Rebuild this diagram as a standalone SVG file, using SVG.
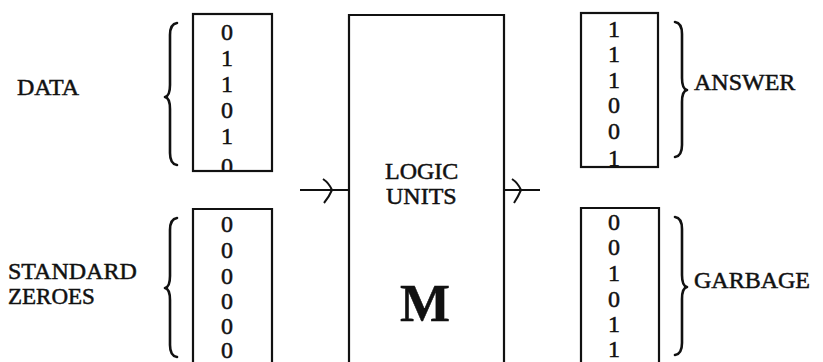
<svg xmlns="http://www.w3.org/2000/svg" width="823" height="362" viewBox="0 0 823 362">
<style>
text{font-family:"Liberation Serif","Times New Roman",serif;fill:#111;stroke:#111;stroke-width:0.5}
.lbl{font-size:24px}
.dg{font-size:24px;text-anchor:middle}
.box{fill:none;stroke:#111;stroke-width:2.2}
.br{fill:none;stroke:#111;stroke-width:2.6;stroke-linecap:round;stroke-linejoin:round}
.ln{fill:none;stroke:#111;stroke-width:2}
</style>
<defs>
<clipPath id="c1"><rect x="193" y="14" width="79" height="156"/></clipPath>
<clipPath id="c2"><rect x="581" y="13" width="77" height="153"/></clipPath>
</defs>
<g id="data">
<text class="lbl" x="17" y="95">DATA</text>
<path class="br" d="M177,23 Q170,24 170,35 L170,85 Q170,96 165,97 Q170,98 170,109 L170,153 Q170,164 177,165"/>
<g clip-path="url(#c1)">
<text class="dg" x="227" y="40">0</text>
<text class="dg" x="227" y="66">1</text>
<text class="dg" x="227" y="92">1</text>
<text class="dg" x="227" y="118">0</text>
<text class="dg" x="227" y="144">1</text>
<text class="dg" x="227" y="174">0</text>
</g>
<rect class="box" x="193" y="14" width="79" height="157"/>
</g>
<g id="zeroes">
<text class="lbl" x="8" y="279">STANDARD</text>
<text class="lbl" x="8" y="304" style="font-size:23px">ZEROES</text>
<path class="br" d="M177,218 Q170,219 170,230 L170,276 Q170,287 165,288 Q170,289 170,300 L170,345 Q170,356 177,357"/>
<text class="dg" x="227" y="232">0</text>
<text class="dg" x="227" y="258">0</text>
<text class="dg" x="227" y="284">0</text>
<text class="dg" x="227" y="309">0</text>
<text class="dg" x="227" y="334">0</text>
<text class="dg" x="227" y="358">0</text>
<path class="box" d="M193,365 L193,209 L272,209 L272,365"/>
</g>
<g id="logic">
<path class="box" d="M349,365 L349,15 L504,15 L504,365"/>
<text class="lbl" x="385" y="179">LOGIC</text>
<text class="lbl" x="386" y="204">UNITS</text>
<text x="400" y="321" style="font-size:53px;font-weight:bold">M</text>
</g>
<g id="answer">
<g clip-path="url(#c2)">
<text class="dg" x="614" y="37">1</text>
<text class="dg" x="614" y="62">1</text>
<text class="dg" x="614" y="88">1</text>
<text class="dg" x="614" y="113">0</text>
<text class="dg" x="614" y="139">0</text>
<text class="dg" x="614" y="166">1</text>
</g>
<rect class="box" x="581" y="13" width="77" height="154"/>
<path class="br" d="M675,22 Q682,23 682,34 L682,78 Q682,89 687,90 Q682,91 682,102 L682,145 Q682,156 675,157"/>
<text class="lbl" x="694" y="90">ANSWER</text>
</g>
<g id="garbage">
<path class="box" d="M581,365 L581,208 L659,208 L659,365"/>
<text class="dg" x="614" y="230">0</text>
<text class="dg" x="614" y="255">0</text>
<text class="dg" x="614" y="281">1</text>
<text class="dg" x="614" y="307">0</text>
<text class="dg" x="614" y="332">1</text>
<text class="dg" x="614" y="357">1</text>
<path class="br" d="M675,217 Q682,218 682,229 L682,275 Q682,286 687,287 Q682,288 682,299 L682,343 Q682,354 675,355"/>
<text class="lbl" x="694" y="288">GARBAGE</text>
</g>
<g id="connectors">
<path class="ln" d="M300,190 L349,190"/>
<path class="ln" d="M323,179 Q329,183 332,190 Q329,197 324,203"/>
<path class="ln" d="M504,190 L540,190"/>
<path class="ln" d="M512,179 Q518,183 521,190 Q518,197 514,203"/>
</g>
</svg>
